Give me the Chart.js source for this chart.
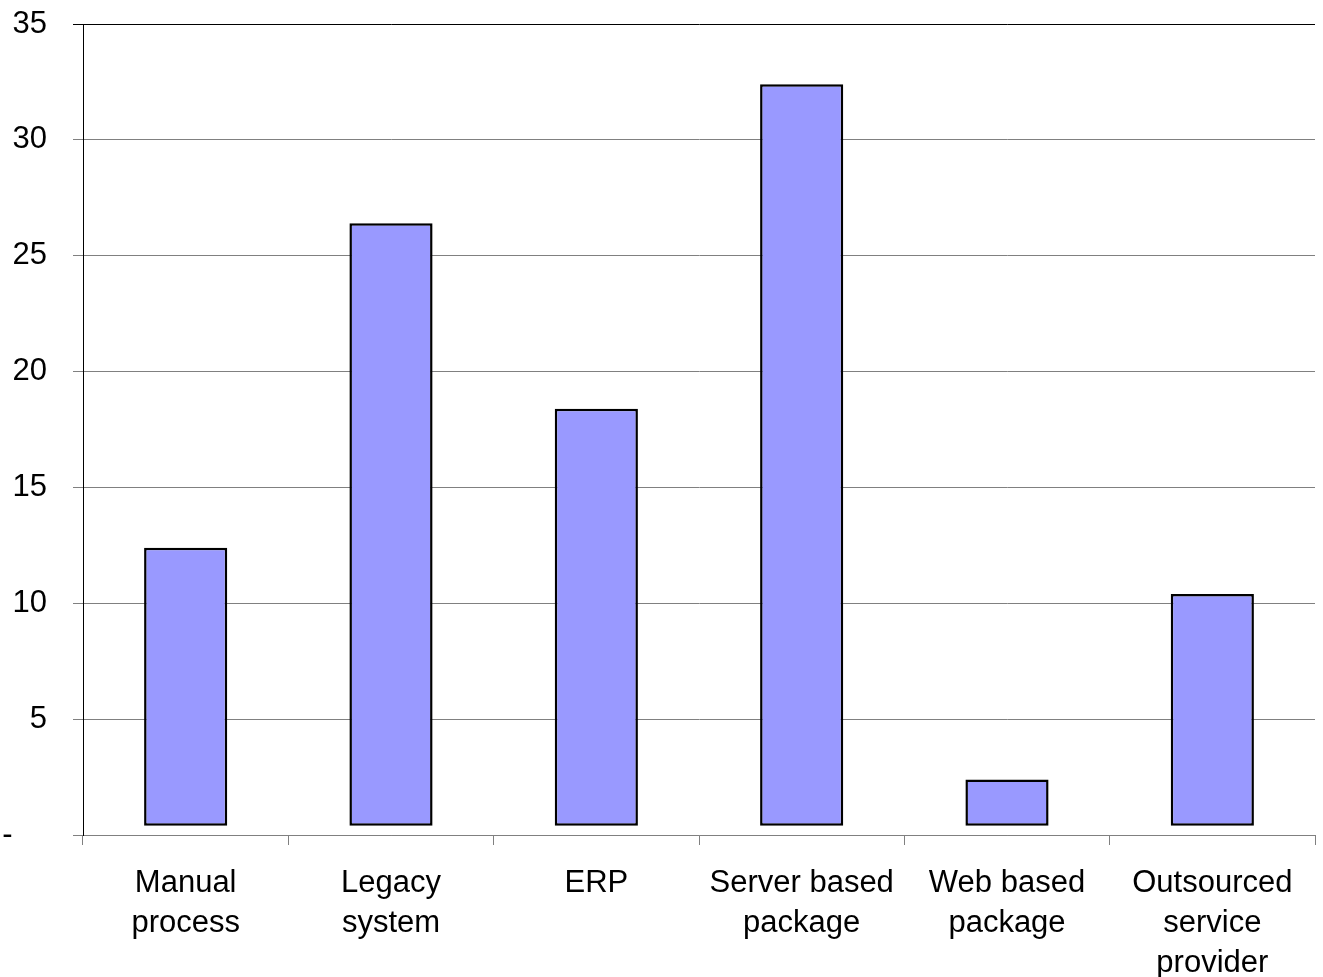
<!DOCTYPE html>
<html>
<head>
<meta charset="utf-8">
<script src="https://cdn.jsdelivr.net/npm/chart.js@4/dist/chart.umd.min.js"></script>
<style>
  html, body { margin: 0; padding: 0; background: #ffffff; }
  #wrap { width: 1323px; height: 977px; position: relative; }
</style>
</head>
<body>
<div id="wrap"><canvas id="c" width="1323" height="977"></canvas></div>
<script>
const categories = [
  ['Manual', 'process'],
  ['Legacy', 'system'],
  ['ERP'],
  ['Server based', 'package'],
  ['Web based', 'package'],
  ['Outsourced', 'service', 'provider']
];
const barTops = [12.4, 26.4, 18.4, 32.4, 2.4, 10.4];
const barBottoms = [0.4, 0.4, 0.4, 0.4, 0.4, 0.4];
const yTicks = [0, 5, 10, 15, 20, 25, 30, 35];

const FONT = 'Arial, "Liberation Sans", sans-serif';

new Chart(document.getElementById('c'), {
  type: 'bar',
  data: {
    labels: categories,
    datasets: [{
      data: barTops.map((t, i) => [barBottoms[i], t]),
      backgroundColor: '#9999FF',
      borderColor: '#000000',
      borderWidth: 2.5,
      borderSkipped: false,
      barPercentage: 0.405,
      categoryPercentage: 1.0
    }]
  },
  options: {
    responsive: false,
    animation: false,
    layout: { padding: { top: 24, right: 8, left: 0, bottom: 0 } },
    plugins: { legend: { display: false }, tooltip: { enabled: false } },
    scales: {
      x: {
        grid: {
          display: true,
          drawOnChartArea: false,
          drawTicks: true,
          tickLength: 10,
          color: '#808080',
          offset: true
        },
        border: { display: true, color: '#808080', width: 1 },
        ticks: {
          color: '#000000',
          font: { family: FONT, size: 31, lineHeight: 1.29 },
          padding: 18,
          maxRotation: 0,
          autoSkip: false
        },
        afterFit: (s) => { s.height = 142; s.paddingLeft = 0; s.paddingRight = 0; }
      },
      y: {
        min: 0,
        max: 35,
        afterBuildTicks: (s) => { s.ticks = yTicks.map(v => ({ value: v })); },
        grid: {
          color: (ctx) => (ctx.tick && ctx.tick.value === 35) ? '#000000' : '#808080',
          tickLength: 10,
          lineWidth: 1
        },
        border: { display: true, color: '#000000', width: 1 },
        ticks: {
          color: '#000000',
          font: { family: FONT, size: 31 },
          padding: 26,
          callback: (v) => v === 0 ? '-    ' : String(v)
        },
        afterFit: (s) => { s.width = 83; s.paddingTop = 0; s.paddingBottom = 0; }
      }
    }
  }
});
</script>
</body>
</html>
